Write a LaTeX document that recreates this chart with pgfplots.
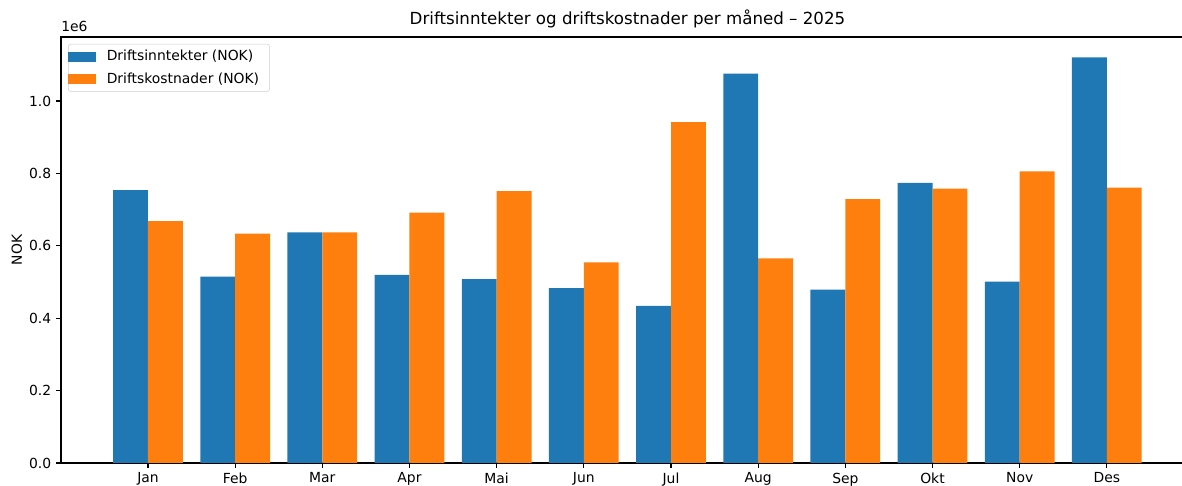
\documentclass[border=0pt]{standalone}
\usepackage{pgfplots}
\pgfplotsset{compat=1.18}
\usepackage{fontspec}
\setmainfont{DejaVu Sans}
\definecolor{mblue}{HTML}{1F77B4}
\definecolor{morange}{HTML}{FF7F0E}
\begin{document}
\begin{tikzpicture}
\path[use as bounding box] (-43.92pt,-16.56pt) rectangle (807.12pt,333.36pt);
\begin{axis}[
  name=ax,
  at={(0,0)}, anchor=south west,
  scale only axis,
  width=815.76pt, height=306.72pt,
  xmin=-0.998, xmax=12.0,
  ymin=0, ymax=1.177,
  axis line style={line width=0.8pt},
  tick style={line width=0.8pt, black},
  tick align=outside,
  major tick length=3.5pt,
  xtick={0,...,11},
  xticklabels={Jan,Feb,Mar,Apr,Mai,Jun,Jul,Aug,Sep,Okt,Nov,Des},
  ytick={0,0.2,0.4,0.6,0.8,1.0},
  xtick pos=bottom, ytick pos=left,
  /pgf/number format/assume math mode=true,
  yticklabel={\pgfmathprintnumber[fixed,fixed zerofill,precision=1]{\tick}},
  ticklabel style={font=\fontsize{10}{12}\selectfont},
  ylabel={NOK},
  ylabel style={at={(axis description cs:-0.0389,0.5)}, anchor=center, rotate=0, font=\fontsize{10}{12}\selectfont},
  title={Driftsinntekter og driftskostnader per måned – 2025},
  title style={at={(axis description cs:0.5,1)}, anchor=base, yshift=3.2pt, inner sep=0pt, font=\fontsize{12}{14}\selectfont},
  legend style={at={(axis description cs:0.0062,0.984)}, anchor=north west,
    draw=black!18, rounded corners=2pt, font=\fontsize{10}{12}\selectfont,
    inner xsep=0pt, inner ysep=2.5pt, row sep=3pt,
    nodes={inner xsep=7.5pt}},
  legend cell align=left,
  legend image code/.code={\fill[#1, sharp corners] (0pt,-3.6pt) rectangle (20.2pt,3.6pt);},
  bar width=0.4,
]
\addplot[ybar, bar shift=-0.2, fill=mblue, draw=none] coordinates {
(0,0.754) (1,0.515) (2,0.637) (3,0.520) (4,0.508) (5,0.483)
(6,0.434) (7,1.076) (8,0.479) (9,0.774) (10,0.501) (11,1.121)};
\addlegendentry{Driftsinntekter (NOK)}
\addplot[ybar, bar shift=0.2, fill=morange, draw=none] coordinates {
(0,0.668) (1,0.634) (2,0.637) (3,0.692) (4,0.751) (5,0.554)
(6,0.942) (7,0.565) (8,0.729) (9,0.758) (10,0.806) (11,0.761)};
\addlegendentry{Driftskostnader (NOK)}
\end{axis}
\node[anchor=base west, inner sep=0pt, font=\fontsize{10}{12}\selectfont] at ([yshift=4pt]ax.north west) {1e6};
\end{tikzpicture}
\end{document}
